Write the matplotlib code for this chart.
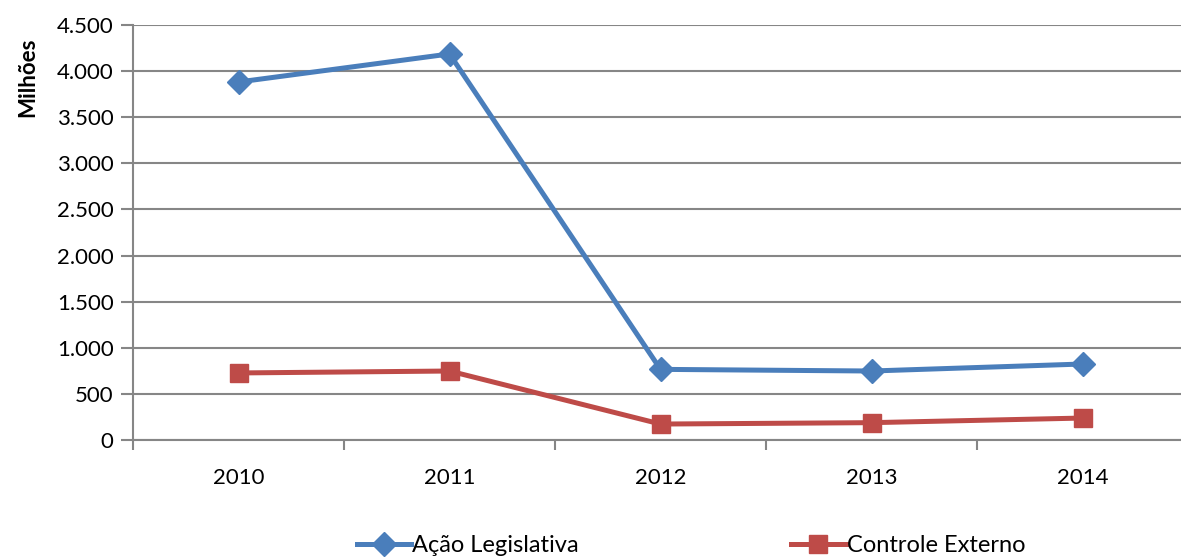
import matplotlib.pyplot as plt
from matplotlib.ticker import FuncFormatter, FixedLocator

plt.rcParams['font.family'] = ['Lato', 'DejaVu Sans']

years = ['2010', '2011', '2012', '2013', '2014']
acao_legislativa = [3882, 4186, 766, 748, 824]
controle_externo = [727, 748, 173, 188, 238]

BLUE = '#4A7EBB'
RED = '#BE4B48'
GRID = '#868686'

fig = plt.figure(figsize=(11.81, 5.59), dpi=100)
ax = fig.add_axes([133 / 1181, 1 - 440 / 559, 1055 / 1181, 415 / 559])

x = range(len(years))
ax.plot(x, acao_legislativa, color=BLUE, lw=3.6, marker='D', ms=12,
        label='Ação Legislativa', clip_on=False, zorder=3)
ax.plot(x, controle_externo, color=RED, lw=3.6, marker='s', ms=13.5,
        label='Controle Externo', clip_on=False, zorder=3)

ax.set_xlim(-0.5, 4.5)
ax.set_ylim(0, 4500)
ax.set_yticks(range(0, 4501, 500))
ax.yaxis.set_major_formatter(FuncFormatter(lambda v, p: f'{int(v):,}'.replace(',', '.')))
ax.set_xticks(list(x))
ax.set_xticklabels(years)
ax.xaxis.set_minor_locator(FixedLocator([i - 0.5 for i in range(6)]))
ax.tick_params(axis='x', which='major', length=0, pad=20, labelsize=16)
ax.tick_params(axis='x', which='minor', length=7, width=1.5, color=GRID)
ax.tick_params(axis='y', length=9, width=1.5, color=GRID, labelsize=16, pad=5)

ax.grid(axis='y', color=GRID, lw=1.5)
ax.set_axisbelow(True)
for s in ['top', 'right']:
    ax.spines[s].set_visible(False)
for s in ['left', 'bottom']:
    ax.spines[s].set_color(GRID)
    ax.spines[s].set_linewidth(1.5)

fig.text(28 / 1181, 1 - 77 / 559, 'Milhões', rotation=90, fontsize=16,
         fontweight='bold', ha='center', va='center')

fig.legend(loc='center', bbox_to_anchor=(0.585, 1 - 546 / 559), ncol=2,
           frameon=False, fontsize=17, columnspacing=9, handlelength=2.3,
           handletextpad=0.05)

fig.savefig('out.png', dpi=100)
